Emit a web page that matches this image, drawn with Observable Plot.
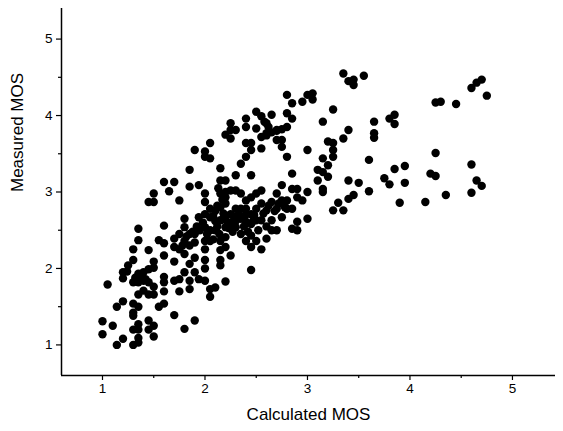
<!DOCTYPE html>
<html>
<head>
<meta charset="utf-8">
<script src="https://cdn.jsdelivr.net/npm/d3@7"></script>
<script src="https://cdn.jsdelivr.net/npm/@observablehq/plot@0.6"></script>
<style>
  html, body { margin: 0; padding: 0; background: #fff; }
  #chart svg { display: block; }
</style>
</head>
<body>
<div id="chart"></div>
<script>
const calcMOS = [
  1.0,1.0,1.05,1.1,1.14,1.2,1.14,1.2,1.2,1.2,1.25,1.24,1.3,1.3,1.35,1.35,1.3,1.3,1.3,1.3,1.3,1.3,
  1.35,1.35,1.35,1.35,1.35,1.35,1.35,1.35,1.4,1.4,1.4,1.45,1.45,1.45,1.45,1.45,1.45,1.5,1.5,1.5,1.5,
  1.5,1.5,1.5,1.5,1.45,1.55,1.55,1.6,1.6,1.6,1.6,1.6,1.6,1.6,1.6,1.65,1.7,1.7,1.7,1.7,1.7,1.7,
  1.75,1.75,1.75,1.75,1.75,1.8,1.8,1.8,1.8,1.8,1.8,1.85,1.85,1.85,1.85,1.85,1.85,1.85,
  1.9,1.9,1.9,1.9,1.9,1.9,1.94,1.94,1.94,1.95,
  2.0,2.0,2.0,2.0,2.0,2.0,2.0,2.0,2.0,2.0,2.0,
  2.05,2.05,2.05,2.05,2.05,2.05,2.05,2.1,2.1,2.1,
  2.15,2.15,2.15,2.15,2.15,2.15,2.15,2.15,2.15,
  2.2,2.2,2.2,2.2,2.2,2.2,2.2,2.2,
  2.25,2.25,2.25,2.25,2.25,2.25,2.25,
  2.3,2.3,2.3,2.3,2.3,2.35,2.35,2.35,2.35,
  2.4,2.4,2.4,2.4,2.4,2.4,2.4,2.4,
  2.45,2.45,2.45,2.45,2.45,2.45,2.45,2.45,
  2.5,2.5,2.5,2.5,2.5,2.5,
  2.55,2.55,2.55,2.55,2.55,2.55,2.55,
  2.6,2.6,2.6,2.6,2.65,2.65,2.65,2.65,
  2.7,2.7,2.7,2.7,2.7,2.75,2.75,2.75,2.75,2.75,
  2.8,2.8,2.8,2.8,2.8,2.8,2.85,2.85,2.85,2.85,2.85,2.85,
  2.9,2.9,2.9,2.9,2.95,2.95,3.0,3.0,3.0,3.0,3.05,3.05,
  3.1,3.1,3.15,3.15,3.15,3.15,3.15,3.2,3.2,3.2,
  3.25,3.25,3.25,3.25,3.25,3.3,3.35,3.35,3.35,3.4,3.4,3.4,3.4,3.45,3.45,3.45,3.5,3.55,
  3.6,3.6,3.65,3.65,3.65,3.75,3.8,3.8,3.85,3.85,3.85,3.9,3.95,3.95,
  4.15,4.2,4.25,4.25,4.25,4.3,4.35,4.45,4.6,4.6,4.6,4.65,4.65,4.7,4.7,4.75,
  2.05,2.1,2.12,2.18,2.2,2.22,2.27,2.3,2.33,2.38,2.42,2.45,2.48,2.52,2.57,2.6,2.62,2.68,2.72,2.78,
  1.98,2.02,2.08,2.14,1.92,1.88,1.82,1.78,2.17,2.13,2.2,2.23,
  2.6,2.65,2.7,2.75,2.62,2.58,
  2.08,2.12,2.18,2.25,2.28,2.35,2.4,2.47,1.32,1.38,1.42
];
const measuredMOS = [
  1.31,1.14,1.79,1.25,1.0,1.08,1.5,1.57,1.95,1.87,2.04,1.96,2.11,2.25,2.52,2.37,1.82,1.54,1.42,1.38,1.2,1.0,
  1.03,1.09,1.27,1.2,1.5,1.66,1.93,1.82,1.95,1.84,1.71,2.24,1.99,1.82,1.32,1.2,2.87,2.87,2.98,2.09,2.01,
  1.76,1.66,1.25,1.11,1.66,1.5,2.37,1.54,1.7,1.82,1.89,2.17,2.33,2.56,3.13,3.01,3.13,1.39,2.09,2.28,2.39,1.84,
  2.89,1.7,1.86,2.25,2.45,1.21,1.95,2.36,2.54,2.65,2.19,3.29,3.07,1.84,1.73,2.06,2.3,2.45,
  3.55,1.32,1.95,2.14,2.34,2.45,3.09,2.67,1.86,2.5,
  3.53,3.46,2.98,2.87,2.71,2.54,2.36,2.25,2.11,2.0,1.84,
  3.64,3.44,1.63,1.73,2.67,2.5,2.36,1.75,2.75,2.5,
  3.31,3.15,2.98,2.8,2.63,2.36,2.24,2.11,2.04,
  3.15,2.93,2.67,2.54,2.41,2.28,1.83,3.75,
  3.9,3.81,3.7,3.02,2.71,2.54,2.17,
  3.81,3.22,3.02,2.78,2.54,3.37,2.98,2.78,2.45,
  3.96,3.85,3.64,3.46,2.89,2.71,2.61,2.36,
  3.64,3.55,3.22,2.93,2.71,2.43,2.28,1.98,
  4.05,3.83,2.98,2.78,2.63,2.36,
  3.99,3.72,3.57,3.02,2.85,2.63,2.25,
  3.9,3.77,2.76,2.39,4.01,2.87,2.63,2.5,
  3.81,3.68,2.98,2.78,2.5,3.59,3.68,3.09,2.89,2.67,
  4.27,4.03,3.85,3.46,2.89,2.78,4.16,3.96,3.24,3.04,2.78,2.52,
  3.04,2.93,2.61,2.5,4.18,2.89,4.27,3.55,3.0,2.65,4.29,4.21,
  3.29,3.15,3.92,3.44,3.26,3.04,3.0,3.66,3.35,3.2,
  4.08,3.64,3.55,3.46,2.76,2.86,4.55,3.7,2.76,4.45,3.81,3.15,2.91,4.47,4.4,2.96,3.12,4.52,
  3.42,3.01,3.92,3.77,3.71,3.18,3.1,3.96,4.01,3.89,3.3,2.86,3.34,3.12,
  2.87,3.24,4.17,3.51,3.21,4.18,2.96,4.15,4.36,3.36,2.99,4.43,3.15,4.47,3.08,4.26,
  2.78,2.62,2.55,2.72,2.85,2.6,2.48,2.62,2.7,2.55,2.48,2.58,2.7,2.5,2.72,2.55,2.82,2.75,2.85,2.8,
  2.6,2.45,2.38,2.45,2.55,2.48,2.42,2.3,2.9,3.05,3.0,2.53,
  3.74,3.78,3.8,3.82,3.85,3.92,
  2.68,2.82,2.65,2.6,2.68,2.65,2.78,2.62,1.88,1.9,1.86
];
const xMajor = [1, 2, 3, 4, 5];
const xMinor = [1.5, 2.5, 3.5, 4.5];
const yMajor = [1, 2, 3, 4, 5];
const yMinor = [1.5, 2.5, 3.5, 4.5];
const xDomain = [0.6, 5.42];
const yDomain = [0.6, 5.4];
const xTitle = "Calculated MOS";
const yTitle = "Measured MOS";

const points = calcMOS.map((x, i) => ({x, y: measuredMOS[i]}));

const chart = Plot.plot({
  width: 563,
  height: 431,
  marginLeft: 61,
  marginRight: 8,
  marginTop: 8,
  marginBottom: 56,
  style: {fontFamily: "'Liberation Sans', Arial, sans-serif", fontSize: "14px", color: "#000", background: "#fff"},
  x: {domain: xDomain},
  y: {domain: yDomain},
  marks: [
    Plot.dot(points, {x: "x", y: "y", r: 4.2, fill: "#000", stroke: "none"}),
    Plot.ruleX([xDomain[0]], {stroke: "#000", strokeWidth: 1.5}),
    Plot.ruleY([yDomain[0]], {stroke: "#000", strokeWidth: 1.5}),
    Plot.axisX({ticks: xMajor, tickSize: 5, tickPadding: 3, label: null, stroke: "#000", strokeWidth: 1.2, fontSize: 13.5, tickFormat: d => d}),
    Plot.axisX({ticks: xMinor, tickSize: 3, label: null, text: null, stroke: "#000", strokeWidth: 1.2}),
    Plot.axisY({ticks: yMajor, tickSize: 5, tickPadding: 4, label: null, stroke: "#000", strokeWidth: 1.2, fontSize: 13.5, tickFormat: d => d}),
    Plot.axisY({ticks: yMinor, tickSize: 3, label: null, text: null, stroke: "#000", strokeWidth: 1.2}),
    Plot.text([xTitle], {frameAnchor: "bottom", dy: 44, fontSize: 17, fill: "#000"}),
    Plot.text([yTitle], {frameAnchor: "left", dx: -44, rotate: -90, fontSize: 17, fill: "#000"})
  ]
});
document.getElementById("chart").appendChild(chart);
</script>
</body>
</html>
